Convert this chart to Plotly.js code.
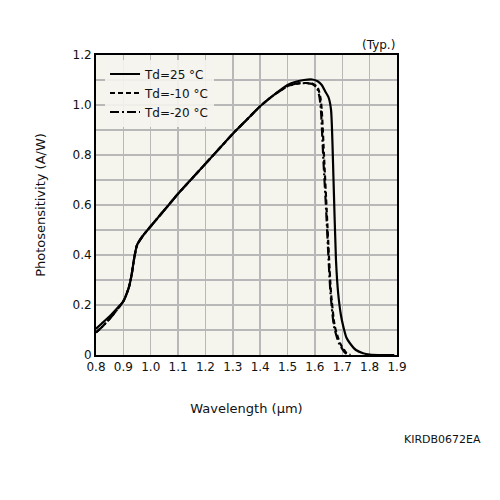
<!DOCTYPE html>
<html><head><meta charset="utf-8">
<script src="https://cdn.plot.ly/plotly-3.0.1.min.js"></script>
<style>html,body{margin:0;padding:0;background:#fff}#c{width:500px;height:500px}</style>
</head><body><div id="c"></div>
<script>
const names = ["Td=25 °C", "Td=-10 °C", "Td=-20 °C"];
const wl25 = [0.80,0.82,0.85,0.88,0.90,0.92,0.93,0.94,0.95,0.97,1.00,1.05,1.10,1.15,1.20,1.25,1.30,1.35,1.40,1.45,1.50,1.53,1.56,1.59,1.61,1.625,1.64,1.65,1.659,1.668,1.677,1.685,1.695,1.704,1.715,1.728,1.75,1.776,1.80,1.85,1.89];
const ps25 = [0.105,0.125,0.155,0.19,0.215,0.27,0.32,0.39,0.44,0.475,0.515,0.58,0.645,0.705,0.765,0.825,0.885,0.94,0.995,1.04,1.08,1.093,1.10,1.102,1.095,1.08,1.05,1.03,0.98,0.70,0.38,0.247,0.16,0.113,0.07,0.047,0.02,0.007,0.002,0,0];
const wlm10 = [0.80,0.82,0.85,0.88,0.90,0.92,0.93,0.94,0.95,0.97,1.00,1.05,1.10,1.15,1.20,1.25,1.30,1.35,1.40,1.45,1.50,1.53,1.56,1.59,1.61,1.62,1.625,1.634,1.643,1.652,1.659,1.673,1.692,1.716,1.73];
const psm10 = [0.09,0.11,0.145,0.185,0.215,0.27,0.32,0.39,0.44,0.475,0.515,0.58,0.645,0.705,0.765,0.825,0.885,0.94,0.995,1.04,1.075,1.085,1.088,1.086,1.07,1.03,0.98,0.78,0.58,0.38,0.247,0.113,0.047,0.007,0];
const wlm20 = [0.80,0.82,0.85,0.88,0.90,0.92,0.93,0.94,0.95,0.97,1.00,1.05,1.10,1.15,1.20,1.25,1.30,1.35,1.40,1.45,1.50,1.53,1.56,1.59,1.607,1.617,1.622,1.631,1.641,1.650,1.657,1.670,1.688,1.712,1.726];
const psm20 = [0.09,0.11,0.145,0.185,0.215,0.27,0.32,0.39,0.44,0.475,0.515,0.58,0.645,0.705,0.765,0.825,0.885,0.94,0.995,1.04,1.075,1.085,1.087,1.084,1.07,1.03,0.98,0.78,0.58,0.38,0.247,0.113,0.047,0.007,0];
const xTicks = [0.8,0.9,1.0,1.1,1.2,1.3,1.4,1.5,1.6,1.7,1.8,1.9];
const xTickText = ["0.8","0.9","1.0","1.1","1.2","1.3","1.4","1.5","1.6","1.7","1.8","1.9"];
const yTicks = [0,0.2,0.4,0.6,0.8,1.0,1.2];
const yTickText = ["0","0.2","0.4","0.6","0.8","1.0","1.2"];

const fam = "DejaVu Sans, Verdana, sans-serif";
const traces = [
  {x: wl25, y: ps25, name: names[0], mode: "lines", line: {color: "#000", width: 2.2, shape: "spline", smoothing: 0.6}},
  {x: wlm10, y: psm10, name: names[1], mode: "lines", line: {color: "#000", width: 2.2, dash: "5px,3px", shape: "spline", smoothing: 0.6}},
  {x: wlm20, y: psm20, name: names[2], mode: "lines", line: {color: "#000", width: 2.2, dash: "9px,3px,2px,3px", shape: "spline", smoothing: 0.6}}
];
const layout = {
  width: 500, height: 500,
  margin: {l: 96, r: 103, t: 55, b: 145},
  paper_bgcolor: "#fff", plot_bgcolor: "#f5f4ed",
  font: {family: fam, size: 12, color: "#111"}, showlegend: true,
  legend: {x: 0.03, y: 0.985, xanchor: "left", yanchor: "top", bgcolor: "rgba(245,244,237,0.9)",
           font: {family: fam, size: 12, color: "#111"}, tracegroupgap: 0, itemwidth: 30},
  xaxis: {range: [0.8, 1.9], tickvals: xTicks, ticktext: xTickText, showgrid: true, gridcolor: "#b8b8b8", gridwidth: 1.5,
          showline: true, linecolor: "#000", linewidth: 2, mirror: true, ticks: "", zeroline: false,
          tickfont: {family: fam, size: 12, color: "#111"},
          title: {text: "Wavelength (μm)", font: {family: fam, size: 13, color: "#111"}, standoff: 30}},
  yaxis: {range: [0, 1.2], tickvals: yTicks, ticktext: yTickText, showgrid: true, gridcolor: "#b8b8b8", gridwidth: 1.5,
          minor: {dtick: 0.1, showgrid: true, gridcolor: "#b8b8b8", gridwidth: 1.5},
          showline: true, linecolor: "#000", linewidth: 2, mirror: true, ticks: "", zeroline: false,
          tickfont: {family: fam, size: 12, color: "#111"},
          title: {text: "Photosensitivity (A/W)", font: {family: fam, size: 13, color: "#111"}, standoff: 24}},
  annotations: [
    {text: "(Typ.)", xref: "paper", yref: "paper", x: 1.0, y: 1.0, xanchor: "right", yanchor: "bottom", showarrow: false, yshift: 1, font: {family: fam, size: 12, color: "#111"}},
    {text: "KIRDB0672EA", xref: "paper", yref: "paper", x: 1.285, y: -0.283, xanchor: "right", yanchor: "middle", showarrow: false, font: {family: fam, size: 11, color: "#111"}}
  ]
};
Plotly.newPlot("c", traces, layout, {displayModeBar: false, staticPlot: true});
</script></body></html>
